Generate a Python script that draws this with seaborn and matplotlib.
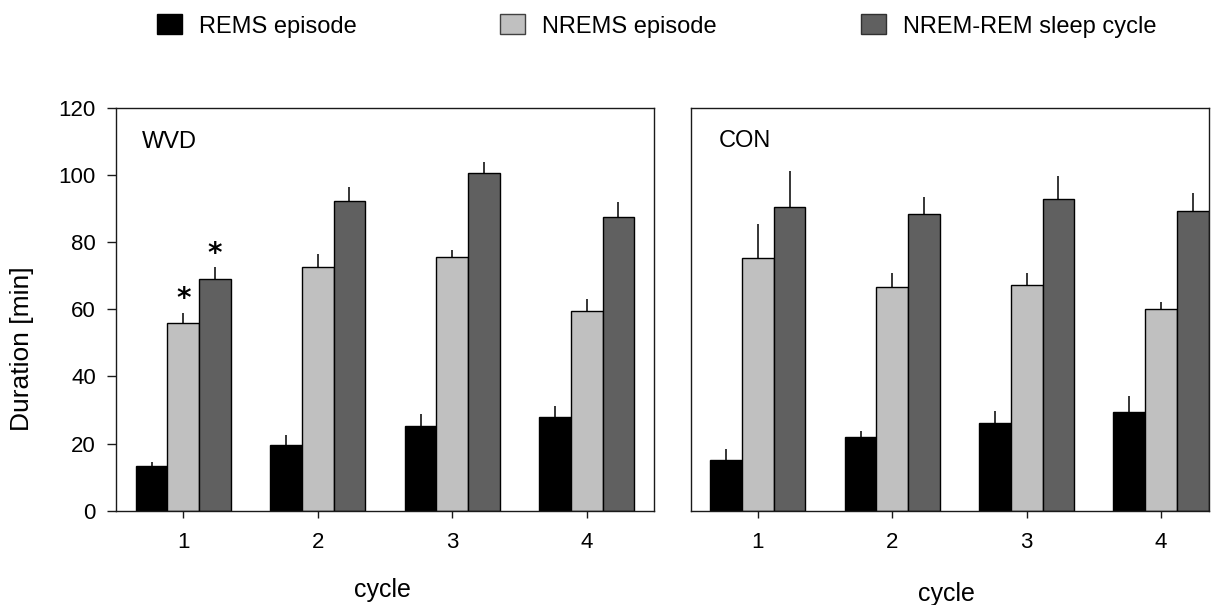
import matplotlib
matplotlib.use("Agg")
import matplotlib.pyplot as plt
from matplotlib.patches import Patch
import seaborn as sns
import pandas as pd
import numpy as np

# ---------------- data ----------------
cycles = ["1", "2", "3", "4"]
stages = ["REMS episode", "NREMS episode", "NREM-REM sleep cycle"]
colors = ["#000000", "#c0c0c0", "#606060"]
legend_edges = ["#000000", "#404040", "#303030"]

wvd_rems = [13.3, 19.6, 25.2, 28.0]
wvd_rems_err = [1.3, 3.0, 3.6, 3.2]
wvd_nrems = [55.8, 72.7, 75.6, 59.6]
wvd_nrems_err = [3.2, 3.7, 2.0, 3.3]
wvd_cycle = [68.9, 92.3, 100.5, 87.6]
wvd_cycle_err = [3.7, 4.0, 3.3, 4.2]

con_rems = [15.1, 22.0, 26.0, 29.3]
con_rems_err = [3.2, 1.8, 3.8, 4.8]
con_nrems = [75.1, 66.5, 67.1, 60.2]
con_nrems_err = [10.2, 4.2, 3.8, 1.9]
con_cycle = [90.3, 88.3, 92.9, 89.2]
con_cycle_err = [10.8, 5.0, 6.7, 5.3]

# significance marks (WVD panel): (stage index, cycle index)
wvd_sig = [(1, 0), (2, 0)]

panels = {
    "WVD": ([wvd_rems, wvd_nrems, wvd_cycle], [wvd_rems_err, wvd_nrems_err, wvd_cycle_err]),
    "CON": ([con_rems, con_nrems, con_cycle], [con_rems_err, con_nrems_err, con_cycle_err]),
}

rows = []
for pname, (vals, errs) in panels.items():
    for s, v_list, e_list in zip(stages, vals, errs):
        for c, v, e in zip(cycles, v_list, e_list):
            rows.append(dict(panel=pname, cycle=c, stage=s, value=v, err=e))
df = pd.DataFrame(rows)

# ---------------- style ----------------
sns.set_style("white")
plt.rcParams["font.family"] = ["Liberation Sans", "DejaVu Sans"]
plt.rcParams["axes.edgecolor"] = "#1a1a1a"
plt.rcParams["axes.linewidth"] = 1.0
for k in ["text.color", "axes.labelcolor", "xtick.labelcolor", "ytick.labelcolor"]:
    plt.rcParams[k] = "black"

W, H = 1228, 605
fig = plt.figure(figsize=(W / 100, H / 100), dpi=100)

def fx(px):
    return px / W

def fy(py):
    return 1 - py / H

ax_l = fig.add_axes([fx(116), fy(510.7), fx(654) - fx(116), fy(107.7) - fy(510.7)])
ax_r = fig.add_axes([fx(690.7), fy(510.7), fx(1209) - fx(690.7), fy(107.7) - fy(510.7)])

bar_containers = {}
for ax, pname in [(ax_l, "WVD"), (ax_r, "CON")]:
    sub = df[df.panel == pname]
    sns.barplot(data=sub, x="cycle", y="value", hue="stage", order=cycles,
                hue_order=stages, palette=colors, saturation=1, width=0.708,
                errorbar=None, edgecolor="black", linewidth=1.0, ax=ax,
                legend=False)
    conts = list(ax.containers)
    bar_containers[pname] = conts
    for i, cont in enumerate(conts):
        s = stages[i]
        e = sub[sub.stage == s].set_index("cycle").loc[cycles, "err"].to_numpy()
        xs = np.array([p.get_x() + p.get_width() / 2 for p in cont])
        ys = np.array([p.get_height() for p in cont])
        ax.errorbar(xs, ys, yerr=[np.zeros_like(e), e], fmt="none",
                    ecolor="black", elinewidth=1.1, capsize=0, zorder=3)
    ax.set_ylim(0, 120)
    ax.set_yticks(range(0, 121, 20))
    for sp in ax.spines.values():
        sp.set_visible(True)
        sp.set_color("#1a1a1a")
        sp.set_linewidth(1.0)
    ax.tick_params(axis="x", bottom=True, direction="out", length=5, width=1,
                   pad=10, labelsize=16, color="#1a1a1a", labelcolor="black")
    ax.set_xlabel("cycle", fontsize=18, color="black")
    ax.set_ylabel("")

ax_l.set_xlim(-0.5, 3.5)
ax_r.set_xlim(-0.5, 3.357)
ax_l.tick_params(axis="y", left=True, direction="out", length=6.5, width=1,
                 pad=8, labelsize=16, color="#1a1a1a", labelcolor="black")
ax_r.tick_params(axis="y", left=False, labelleft=False)

ax_l.set_ylabel("Duration [min]", fontsize=19, color="black")
ax_l.yaxis.set_label_coords(-0.152, 0.402)
ax_l.xaxis.set_label_coords(0.496, -0.167)
ax_r.xaxis.set_label_coords(0.4926, -0.176)

ax_l.text(0.049, 0.899, "WVD", transform=ax_l.transAxes, fontsize=17,
          ha="left", va="baseline", color="black")
ax_r.text(0.055, 0.902, "CON", transform=ax_r.transAxes, fontsize=17,
          ha="left", va="baseline", color="black")

# asterisks above significant bars
sub = df[df.panel == "WVD"]
for si, ci in wvd_sig:
    bar = bar_containers["WVD"][si][ci]
    x = bar.get_x() + bar.get_width() / 2
    row = sub[(sub.stage == stages[si]) & (sub.cycle == cycles[ci])].iloc[0]
    ax_l.text(x, row.value + row.err - 0.2, "*", ha="center", va="bottom",
              fontsize=20, fontweight="bold", family="DejaVu Sans",
              color="black")

# legend: three single-entry legends placed across the top
for x_px, s, c, ec in zip([157, 500, 861], stages, colors, legend_edges):
    h = Patch(facecolor=c, edgecolor=ec, linewidth=1.0)
    fig.legend(handles=[h], labels=[s], loc="center left",
               bbox_to_anchor=(fx(x_px), fy(26)), frameon=False,
               fontsize=17, borderpad=0, borderaxespad=0,
               handlelength=1.06, handleheight=0.93, handletextpad=0.72)

fig.savefig("out.png", dpi=100)
